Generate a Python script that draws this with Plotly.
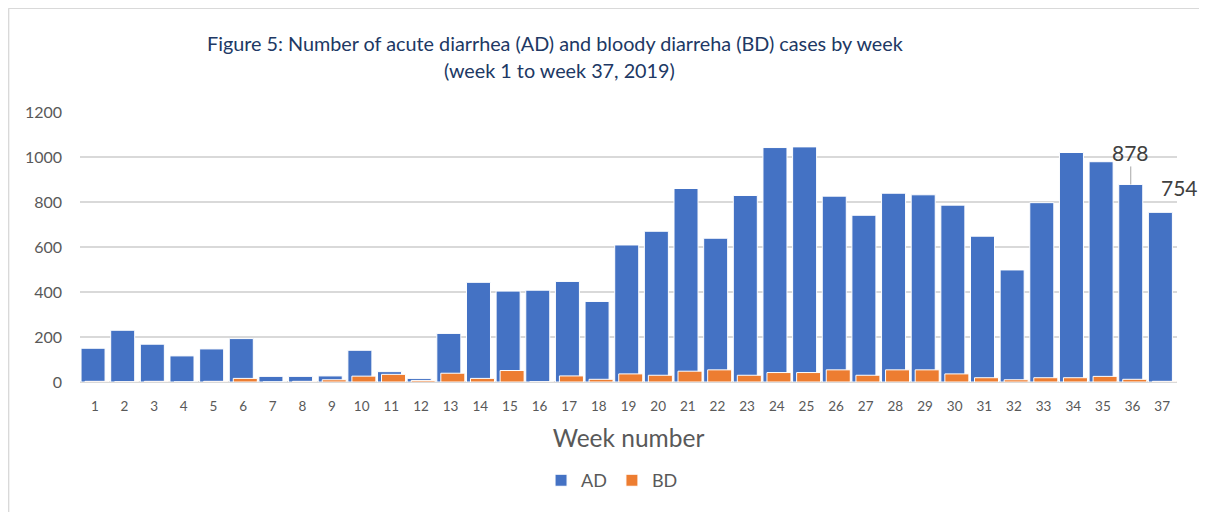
import plotly.graph_objects as go

weeks = list(range(1, 38))
week_labels = [str(w) for w in weeks]
ad_cases = [150, 230, 168, 116, 147, 193, 25, 25, 27, 141, 46, 16, 216, 443, 404, 408, 447, 358,
            609, 670, 860, 639, 829, 1042, 1045, 826, 741, 839, 832, 786, 648, 498, 797, 1020, 979, 878, 754]
bd_cases = [3, 1, 3, 0, 3, 16, 0, 3, 10, 26, 34, 7, 39, 16, 51, 1, 27, 12,
            36, 30, 48, 54, 30, 42, 42, 54, 30, 54, 54, 36, 19, 10, 19, 19, 25, 12, 3]
y_ticks = [0, 200, 400, 600, 800, 1000, 1200]

FONT = "Lato"
GRAY = "#595959"

fig = go.Figure()
fig.add_trace(go.Bar(x=weeks, y=ad_cases, name="AD", marker_color="#4472C4",
                     marker_line=dict(color="white", width=1), width=0.81, offset=-0.465))
fig.add_trace(go.Bar(x=weeks, y=bd_cases, name="BD", marker_color="#ED7D31",
                     marker_line=dict(color="white", width=1), width=0.81, offset=-0.33))

# page has an 8px body margin, so the figure is sized/offset to compensate
fig.update_layout(
    width=1199, height=504,
    margin=dict(l=72, r=30, t=104, b=130),
    barmode="overlay",
    plot_bgcolor="white", paper_bgcolor="white",
    font=dict(family=FONT, color=GRAY, size=13),
    showlegend=True,
    legend=dict(orientation="h", x=0.485, xanchor="center", y=-0.365, yanchor="middle",
                font=dict(size=18, color=GRAY), itemwidth=30, traceorder="normal"),
    xaxis=dict(tickmode="array", tickvals=weeks, ticktext=week_labels, range=[0.5, 37.5],
               showgrid=False, zeroline=False, showline=False, ticks="",
               ticklabelstandoff=14, tickfont=dict(size=13.5, color=GRAY),
               title=dict(text="Week number", font=dict(size=24.5, color=GRAY), standoff=17)),
    yaxis=dict(range=[0, 1200], tickvals=y_ticks, showgrid=True, gridcolor="#D9D9D9", gridwidth=1.5,
               zeroline=True, zerolinecolor="#D9D9D9", zerolinewidth=1.5, showline=False, ticks="",
               ticklabelstandoff=17, tickfont=dict(size=16, color=GRAY)),
)

fig.add_annotation(text="Figure 5: Number of acute diarrhea (AD) and bloody diarreha (BD) cases by week",
                   xref="paper", yref="paper", x=0.433, y=1.256, showarrow=False,
                   font=dict(size=19.8, color="#203864", family=FONT), xanchor="center", yanchor="middle")
fig.add_annotation(text="(week 1 to week 37, 2019)",
                   xref="paper", yref="paper", x=0.437, y=1.156, showarrow=False,
                   font=dict(size=19.8, color="#203864", family=FONT), xanchor="center", yanchor="middle")

# data labels for last two weeks
fig.add_annotation(x=weeks[35] - 0.06, y=ad_cases[35], text=str(ad_cases[35]), showarrow=True,
                   arrowhead=0, arrowcolor="#A6A6A6", arrowwidth=1, ax=0, ay=-32, standoff=0,
                   font=dict(size=21, color="#404040", family=FONT))
fig.add_annotation(x=weeks[36], y=ad_cases[36], text=str(ad_cases[36]), showarrow=False,
                   xshift=17, yshift=25, font=dict(size=21, color="#404040", family=FONT))

# chart border
bx0, bx1, by1 = -0.0651, 1.0228, 1.384
fig.add_shape(type="line", xref="paper", yref="paper", x0=bx0, x1=bx0, y0=-1, y1=by1,
              line=dict(color="#D9D9D9", width=1.5))
fig.add_shape(type="line", xref="paper", yref="paper", x0=bx0, x1=bx1, y0=by1, y1=by1,
              line=dict(color="#D9D9D9", width=1.5))
fig.add_shape(type="line", xref="paper", yref="paper", x0=bx1, x1=bx1, y0=-1, y1=by1,
              line=dict(color="#D9D9D9", width=1.5))

fig.write_html("out.html")
